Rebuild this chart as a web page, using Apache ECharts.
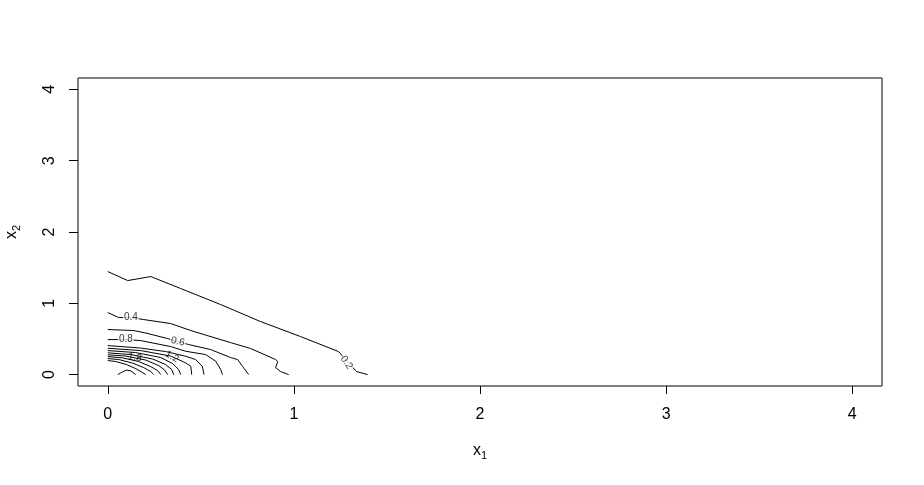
<!DOCTYPE html>
<html>
<head>
<meta charset="utf-8">
<script src="https://cdn.jsdelivr.net/npm/echarts@6/dist/echarts.min.js"></script>
<style>
  html, body { margin: 0; padding: 0; background: #fff; }
  #chart { width: 924px; height: 485px; }
</style>
</head>
<body>
<div id="chart"></div>
<script>
// 坐标刻度
const xTicks = [0, 1, 2, 3, 4];
const yTicks = [0, 1, 2, 3, 4];

// 等高线
const line02 = [[0, 1.445], [0.107, 1.319], [0.231, 1.375], [0.392, 1.207], [0.607, 0.982], [0.821, 0.744], [1.036, 0.533], [1.240, 0.323], [1.288, 0.182], [1.337, 0.042], [1.396, 0]];
const line04 = [[0, 0.870], [0.059, 0.800], [0.124, 0.800], [0.193, 0.772], [0.338, 0.716], [0.446, 0.618], [0.526, 0.554], [0.660, 0.449], [0.768, 0.365], [0.902, 0.211], [0.913, 0.183], [0.902, 0.098], [0.929, 0.042], [0.972, 0]];
const line06 = [[0, 0.632], [0.140, 0.618], [0.204, 0.583], [0.322, 0.505], [0.376, 0.463], [0.435, 0.421], [0.553, 0.351], [0.660, 0.239], [0.698, 0.211], [0.725, 0.112], [0.757, 0]];
const line08 = [[0, 0.491], [0.097, 0.491], [0.177, 0.477], [0.338, 0.393], [0.419, 0.327], [0.526, 0.281], [0.580, 0.187], [0.607, 0.070], [0.616, 0]];
const line10 = [[0, 0.407], [0.177, 0.372], [0.311, 0.323], [0.419, 0.257], [0.472, 0.211], [0.508, 0.117], [0.517, 0]];
const line12 = [[0, 0.369], [0.177, 0.337], [0.338, 0.260], [0.419, 0.164], [0.446, 0.117], [0.451, 0]];
const line14 = [[0, 0.337], [0.150, 0.309], [0.285, 0.239], [0.349, 0.154], [0.381, 0.070], [0.392, 0]];
const line16 = [[0, 0.305], [0.124, 0.281], [0.242, 0.218], [0.311, 0.140], [0.344, 0.070], [0.354, 0]];
const line18 = [[0, 0.277], [0.097, 0.260], [0.204, 0.204], [0.274, 0.126], [0.306, 0.063], [0.322, 0]];
const line20 = [[0, 0.253], [0.081, 0.234], [0.166, 0.183], [0.231, 0.112], [0.268, 0.056], [0.285, 0]];
const line22 = [[0, 0.225], [0.059, 0.211], [0.134, 0.161], [0.193, 0.098], [0.231, 0.042], [0.247, 0]];
const line24 = [[0, 0.197], [0.043, 0.183], [0.102, 0.140], [0.150, 0.084], [0.183, 0.035], [0.204, 0]];
const line26 = [[0.054, 0], [0.080, 0.040], [0.102, 0.063], [0.125, 0.050], [0.150, 0]];

// 等高线标签：[x, y, 文本, 旋转角, 是否留白]
const contourLabels = [
  [1.283, 0.168, '0.2', -55, true],
  [0.124, 0.800, '0.4', 0, true],
  [0.376, 0.463, '0.6', -12, true],
  [0.097, 0.491, '0.8', 0, true],
  [0.344, 0.253, '1.2', -30, false],
  [0.145, 0.239, '1.8', -10, false],
];

const contourLines = [line02, line04, line06, line08, line10, line12, line14, line16, line18, line20, line22, line24, line26];

const chart = echarts.init(document.getElementById('chart'));

const lineSeries = contourLines.map((pts) => ({
  type: 'line',
  data: pts,
  showSymbol: false,
  symbol: 'none',
  smooth: false,
  silent: true,
  lineStyle: { color: '#000', width: 1 },
  z: 2,
}));

const labelSeries = {
  type: 'scatter',
  symbolSize: 0,
  silent: true,
  z: 5,
  data: contourLabels.map((d) => ({
    value: [d[0], d[1]],
    name: d[2],
    label: {
      rotate: d[3],
      backgroundColor: d[4] ? '#fff' : 'transparent',
    },
  })),
  label: {
    show: true,
    position: 'inside',
    formatter: '{b}',
    fontFamily: 'Liberation Sans, Arial, sans-serif',
    fontSize: 10,
    color: '#000',
    padding: [0, 1],
  },
};

const textFont = 'Liberation Sans, Arial, sans-serif';

const subRich = {
  a: { fontSize: 16, fontFamily: textFont, color: '#000' },
  b: { fontSize: 11, fontFamily: textFont, color: '#000', padding: [9, 0, 0, 0] },
};

const option = {
  animation: false,
  backgroundColor: '#fff',
  grid: {
    left: 78,
    right: 42,
    top: 78,
    bottom: 99,
    outerBoundsMode: 'none',
    containLabel: false,
    show: true,
    borderColor: '#000',
    borderWidth: 1,
    backgroundColor: 'transparent',
  },
  xAxis: {
    type: 'value',
    min: -0.16,
    max: 4.16,
    name: '{a|x}{b|1}',
    nameLocation: 'middle',
    nameGap: 55,
    nameTextStyle: { color: '#000', fontFamily: textFont, rich: subRich },
    axisLine: { show: false, onZero: false },
    splitLine: { show: false },
    axisTick: {
      show: true,
      inside: false,
      length: 8,
      customValues: xTicks,
      lineStyle: { color: '#000', width: 1 },
    },
    axisLabel: {
      customValues: xTicks,
      margin: 21,
      fontSize: 16,
      fontFamily: textFont,
      color: '#000',
    },
  },
  yAxis: {
    type: 'value',
    min: -0.16,
    max: 4.16,
    name: '{a|x}{b|2}',
    nameLocation: 'middle',
    nameGap: 56,
    nameTextStyle: { color: '#000', fontFamily: textFont, rich: subRich },
    axisLine: { show: false, onZero: false },
    splitLine: { show: false },
    axisTick: {
      show: true,
      inside: false,
      length: 9,
      customValues: yTicks,
      lineStyle: { color: '#000', width: 1 },
    },
    axisLabel: {
      customValues: yTicks,
      rotate: 90,
      margin: 20,
      fontSize: 16,
      fontFamily: textFont,
      color: '#000',
    },
  },
  series: [...lineSeries, labelSeries],
};

chart.setOption(option);
</script>
</body>
</html>
